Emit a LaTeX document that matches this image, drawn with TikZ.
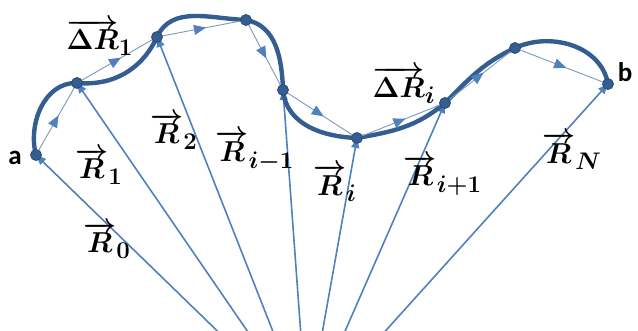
\documentclass[tikz,border=0pt]{standalone}
\usepackage{amsmath,amssymb}
\usepackage{fontspec}
\newfontfamily\endfont{Carlito}
\usepackage{tikz}
\usetikzlibrary{arrows.meta,decorations.markings}
\DeclareMathSizes{15}{15}{11.5}{9}

\definecolor{curveblue}{RGB}{52,94,145}
\definecolor{rayblue}{RGB}{79,129,189}
\definecolor{chordblue}{RGB}{125,152,186}

\begin{document}
\begin{tikzpicture}[x=0.5pt, y=0.5pt,
  ray/.style={rayblue, line width=0.8pt, -{Triangle[length=5pt,width=4pt]}},
  chord/.style={chordblue, line width=0.45pt, postaction={decorate},
    decoration={markings, mark=at position 0.55 with {\arrow[rayblue]{Triangle[length=6pt,width=5pt]}}}},
  trail/.style={curveblue, line width=2.2pt, line cap=round},
  dot/.style={circle, fill=curveblue, draw=curveblue!80!black, inner sep=0pt, minimum size=5.5pt},
  vec/.style={font=\boldmath\fontsize{15}{17}\selectfont},
  endpt/.style={font=\endfont\bfseries\fontsize{13.5}{15}\selectfont}]
  \useasboundingbox (0,0) rectangle (638,331);
  \clip (0,0) rectangle (638,331);

  % Origin (below the frame) and points on the path
  \coordinate (O) at (307,-87);
  \coordinate (a) at (36,176);
  \coordinate (p1) at (77,248);
  \coordinate (p2) at (157,294);
  \coordinate (p3) at (246,311);
  \coordinate (p4) at (283,241);
  \coordinate (p5) at (357,193);
  \coordinate (p6) at (445,228);
  \coordinate (p7) at (515,283);
  \coordinate (b) at (608,247);

  % Position vectors
  \foreach \p in {a,p1,p2,p4,p5,p6,b}
    \draw[ray] (O) -- (\p);

  % Path from a to b
  \draw[trail] (a) to[out=105, in=178] (p1) to[out=-5, in=245] (p2)
    to[out=65, in=178] (p3) to[out=-10, in=92] (p4) to[out=-85, in=178] (p5)
    to[out=10, in=220] (p6) to[out=45, in=205] (p7) to[out=25, in=100] (b);

  % Displacement vectors
  \foreach \p/\q in {a/p1,p1/p2,p2/p3,p3/p4,p4/p5,p5/p6,p6/p7,p7/b}
    \draw[chord] (\p) -- (\q);

  % Points
  \foreach \p in {a,p1,p2,p3,p4,p5,p6,p7,b}
    \node[dot] (d\p) at (\p) {};

  % Labels
  \node[endpt] (la) at (15,173) {a};
  \node[endpt] (lb) at (625,259) {b};
  \node[vec] (lr0) at (107,91) {$\overrightarrow{R}_0$};
  \node[vec] (lr1) at (99,165) {$\overrightarrow{R}_1$};
  \node[vec] (lr2) at (174,200) {$\overrightarrow{R}_2$};
  \node[vec] (lrim) at (255,180) {$\overrightarrow{R}_{i-1}$};
  \node[vec] (lri) at (335,148) {$\overrightarrow{R}_i$};
  \node[vec] (lrip) at (443,156) {$\overrightarrow{R}_{i+1}$};
  \node[vec] (lrn) at (572,180) {$\overrightarrow{R}_N$};
  \node[vec] (ldr1) at (100,294) {$\overrightarrow{\Delta R}_1$};
  \node[vec] (ldri) at (404,246) {$\overrightarrow{\Delta R}_i$};
\end{tikzpicture}
\end{document}
